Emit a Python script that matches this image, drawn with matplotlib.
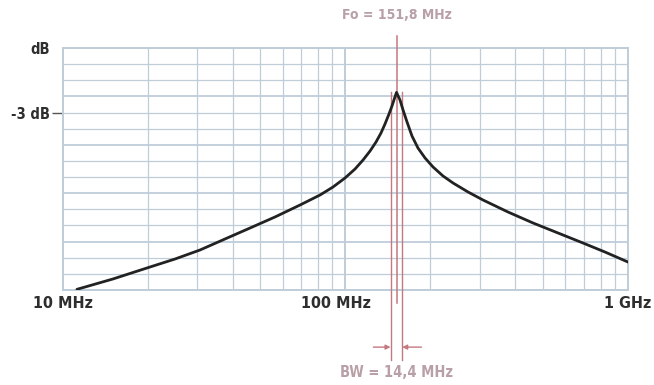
"""
Courbe de résonance d'un filtre (Fo = 151,8 MHz, BW = 14,4 MHz)
"""
import matplotlib
matplotlib.use('Agg')
import matplotlib.pyplot as plt
import matplotlib.transforms as mtransforms
import numpy as np

plt.rcParams['font.family'] = ['Liberation Sans Narrow', 'DejaVu Sans']

# ---- données ----
freq_mhz = [11.25, 15.08, 20.39, 25.0, 30.64, 37.56, 46.04, 56.43, 69.17, 81.42,
            90.5, 99.8, 108.3, 115.6, 122.4, 128.5, 133.8, 138.2, 142.8, 146.3,
            149.9, 151.8,
            156.2, 160.1, 165.4, 172.2, 180.8, 191.5, 204.4, 221.7, 240.5, 271.8,
            307.0, 376.5, 461.4, 565.6, 693.2, 829.1, 1000.0]
gain_db = [-29.3, -27.76, -25.98, -24.79, -23.45, -21.81, -20.18, -18.54, -16.76, -15.27,
           -14.08, -12.74, -11.40, -10.06, -8.72, -7.38, -6.04, -4.71, -3.22, -2.03,
           -0.69, 0.0,
           -1.14, -2.62, -4.41, -6.49, -8.28, -9.76, -11.10, -12.44, -13.48, -14.82,
           -16.01, -17.80, -19.43, -20.92, -22.41, -23.75, -25.24]

f0 = 151.8
bw = 14.4
f_low = 144.6
f_high = 159.0

x_ticks = [10, 100, 1000]
x_labels = ['10 MHz', '100 MHz', '1 GHz']

grid_step = 2.4
y_top = 6.6
n_rows = 15

# ---- couleurs ----
GRID = '#bfcdd9'
RED = '#c47880'
LABEL_RED = '#b8a0a6'
TXT = '#2e2e2e'

fig = plt.figure(figsize=(6.54, 3.85), dpi=100)
fig.patch.set_facecolor('white')
ax = fig.add_axes([62.5 / 654, 95 / 385, (628 - 62.5) / 654, 242 / 385])

ax.set_xscale('log')
ax.set_xlim(10, 1000)
y_bottom = y_top - n_rows * grid_step
ax.set_ylim(y_bottom, y_top)

# ========== grille ==========
for dec in [10, 100]:
    for k in range(1, 10):
        f = dec * k
        lw = 1.4 if k == 1 else 0.9
        ax.axvline(f, color=GRID, linewidth=lw, zorder=1)
for i in range(n_rows + 1):
    y = y_top - i * grid_step
    lw = 1.3 if i % 3 == 0 else 0.9
    ax.axhline(y, color=GRID, linewidth=lw, zorder=1)
for s in ax.spines.values():
    s.set_color(GRID)
    s.set_linewidth(1.4)

# ========== courbe ==========
ax.plot(freq_mhz, gain_db, color='#222222', linewidth=2.0, zorder=4,
        solid_joinstyle='round', solid_capstyle='round')

# ========== repères Fo / BW ==========
trans = mtransforms.blended_transform_factory(ax.transData, ax.transAxes)
ax.plot([f0, f0], [1.05, -0.054], transform=trans, color=RED, linewidth=1.1,
        clip_on=False, zorder=3)
for f in [f_low, f_high]:
    ax.plot([f, f], [(0 - y_bottom) / (y_top - y_bottom), -0.289], transform=trans,
            color=RED, linewidth=1.0, clip_on=False, zorder=3)

ax.annotate('', xy=(f_low, -0.236), xytext=(f_low / 1.15, -0.236),
            xycoords=trans, textcoords=trans,
            arrowprops=dict(arrowstyle='-|>', color=RED, lw=1.0, mutation_scale=7,
                            shrinkA=0, shrinkB=0))
ax.annotate('', xy=(f_high, -0.236), xytext=(f_high * 1.17, -0.236),
            xycoords=trans, textcoords=trans,
            arrowprops=dict(arrowstyle='-|>', color=RED, lw=1.0, mutation_scale=7,
                            shrinkA=0, shrinkB=0))

ax.text(f0, 1.136, 'Fo = 151,8 MHz', transform=trans, ha='center', va='center',
        fontsize=10, fontweight='bold', fontstretch='condensed', color=LABEL_RED)
ax.text(f0, -0.339, f'BW = {bw:.1f} MHz'.replace('.', ','), transform=trans,
        ha='center', va='center', fontsize=10.5, fontweight='bold',
        fontstretch='condensed', color=LABEL_RED)

# ========== axes ==========
ax.set_xticks(x_ticks)
ax.set_xticklabels(x_labels)
ax.xaxis.set_minor_locator(matplotlib.ticker.NullLocator())
ax.tick_params(axis='x', length=0, pad=4, labelsize=11.5, labelcolor=TXT)
for lbl in ax.get_xticklabels():
    lbl.set_fontweight('bold')
    lbl.set_fontstretch('condensed')
# le libellé "100 MHz" est décalé vers la gauche dans l'original
mid = ax.get_xticklabels()[1]
mid.set_transform(mid.get_transform() +
                  mtransforms.ScaledTranslation(-9 / 100, 0, fig.dpi_scale_trans))

ax.set_yticks([y_top, -3])
ax.set_yticklabels(['dB', '-3 dB'])
ax.tick_params(axis='y', length=8, width=1.0, color='#555555', pad=1,
               labelsize=10.5, labelcolor=TXT)
ax.yaxis.get_major_ticks()[0].tick1line.set_visible(False)
for lbl in ax.get_yticklabels():
    lbl.set_fontweight('bold')
    lbl.set_fontstretch('condensed')

fig.savefig('out.png', dpi=100, facecolor='white')
